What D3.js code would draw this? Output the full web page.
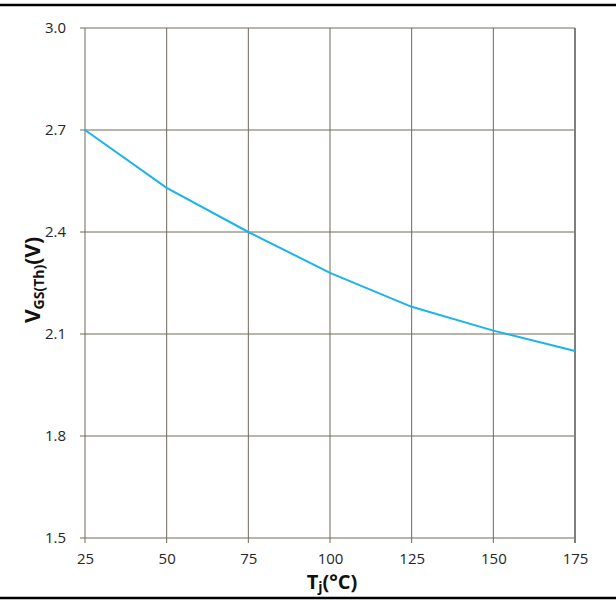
<!DOCTYPE html>
<html>
<head>
<meta charset="utf-8">
<script src="https://cdn.jsdelivr.net/npm/d3@7"></script>
<style>
  body { margin: 0; background: #fff; }
  svg text { font-family: "Open Sans", "Noto Sans", sans-serif; }
</style>
</head>
<body>
<svg id="chart" width="616" height="601"></svg>
<script>
const temps = [25, 50, 75, 100, 125, 150, 175];
const vgsth = [2.70, 2.53, 2.40, 2.28, 2.18, 2.11, 2.05];
const yTicks = [1.5, 1.8, 2.1, 2.4, 2.7, 3.0];

const svg = d3.select('#chart');
const plotL = 85, plotR = 575, plotT = 28, plotB = 538;

const x = d3.scaleLinear().domain([25, 175]).range([plotL, plotR]);
const y = d3.scaleLinear().domain([1.5, 3.0]).range([plotB, plotT]);

// outer rules
svg.append('line').attr('x1', 0).attr('x2', 616).attr('y1', 5).attr('y2', 5)
  .attr('stroke', '#000').attr('stroke-width', 2.5);
svg.append('line').attr('x1', 0).attr('x2', 616).attr('y1', 598).attr('y2', 598)
  .attr('stroke', '#000').attr('stroke-width', 2.5);

// grid
const grid = svg.append('g').attr('stroke', '#6f6a58').attr('stroke-width', 1);
grid.selectAll('line.v').data(temps).join('line')
  .attr('x1', d => x(d)).attr('x2', d => x(d))
  .attr('y1', plotT).attr('y2', plotB + 5);
grid.selectAll('line.h').data(yTicks).join('line')
  .attr('x1', plotL - 5).attr('x2', plotR)
  .attr('y1', d => y(d)).attr('y2', d => y(d));
svg.append('line').attr('x1', plotR).attr('x2', plotR).attr('y1', plotT).attr('y2', plotB + 5)
  .attr('stroke', '#7f7f7f').attr('stroke-width', 2);

// axes labels
const yAxis = svg.append('g').attr('transform', `translate(${plotL},0)`)
  .call(d3.axisLeft(y).tickValues(yTicks).tickFormat(d3.format('.1f')).tickSize(0).tickPadding(19));
yAxis.select('.domain').remove();
yAxis.selectAll('text').attr('font-size', 15).attr('fill', '#262626');

const xAxis = svg.append('g').attr('transform', `translate(0,${plotB})`)
  .call(d3.axisBottom(x).tickValues(temps).tickSize(0).tickPadding(15));
xAxis.select('.domain').remove();
xAxis.selectAll('text').attr('font-size', 15).attr('fill', '#262626');

// curve
svg.append('path')
  .datum(temps.map((t, i) => [t, vgsth[i]]))
  .attr('fill', 'none')
  .attr('stroke', '#1ab3ec')
  .attr('stroke-width', 2)
  .attr('d', d3.line().x(d => x(d[0])).y(d => y(d[1])));

// titles
const xt = svg.append('text')
  .attr('x', 332).attr('y', 589)
  .attr('text-anchor', 'middle')
  .attr('font-size', 20).attr('font-weight', 'bold').attr('fill', '#111');
xt.append('tspan').text('T');
xt.append('tspan').attr('font-size', 14).attr('dy', 3).text('j');
xt.append('tspan').attr('dy', -3).text('(°C)');

const yt = svg.append('text')
  .attr('transform', 'translate(40,280) rotate(-90)')
  .attr('text-anchor', 'middle')
  .attr('font-size', 21).attr('font-weight', 'bold').attr('fill', '#111');
yt.append('tspan').text('V');
yt.append('tspan').attr('font-size', 14).attr('dy', 4).text('GS(Th)');
yt.append('tspan').attr('dy', -4).text('(V)');
</script>
</body>
</html>
